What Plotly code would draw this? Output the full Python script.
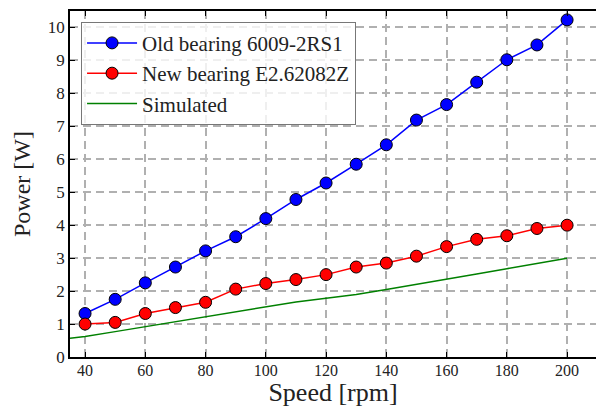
import plotly.graph_objects as go

speed = [40, 50, 60, 70, 80, 90, 100, 110, 120, 130, 140, 150, 160, 170, 180, 190, 200]
old_power = [1.32, 1.75, 2.25, 2.73, 3.22, 3.65, 4.20, 4.78, 5.28, 5.85, 6.44, 7.19, 7.66, 8.34, 9.02, 9.47, 10.23]
new_power = [1.00, 1.05, 1.32, 1.50, 1.66, 2.06, 2.23, 2.35, 2.50, 2.73, 2.85, 3.06, 3.35, 3.57, 3.68, 3.90, 4.00]
sim_speed = [35, 40, 50, 60, 70, 80, 90, 100, 110, 120, 130, 140, 150, 160, 170, 180, 190, 200]
sim_power = [0.57, 0.62, 0.77, 0.92, 1.07, 1.22, 1.38, 1.53, 1.67, 1.78, 1.90, 2.05, 2.20, 2.36, 2.52, 2.68, 2.84, 3.00]

x_ticks = [40, 60, 80, 100, 120, 140, 160, 180, 200]
y_ticks = list(range(0, 11))

FONT = "Liberation Serif"

fig = go.Figure()
fig.add_trace(go.Scatter(x=speed, y=old_power, mode="lines+markers", name="Old bearing 6009-2RS1",
                         line=dict(color="blue", width=1.5),
                         marker=dict(color="blue", size=12, line=dict(color="black", width=1))))
fig.add_trace(go.Scatter(x=speed, y=new_power, mode="lines+markers", name="New bearing E2.62082Z",
                         line=dict(color="red", width=1.5),
                         marker=dict(color="red", size=12, line=dict(color="black", width=1))))
fig.add_trace(go.Scatter(x=sim_speed, y=sim_power, mode="lines", name="Simulated",
                         line=dict(color="green", width=1.5)))

fig.update_layout(
    width=596, height=407,
    margin=dict(l=70, r=0, t=11, b=50),
    paper_bgcolor="white", plot_bgcolor="white",
    font=dict(family=FONT, color="#222", size=16),
    showlegend=True,
    legend=dict(x=0.021, y=0.969, xanchor="left", yanchor="top",
                bgcolor="rgba(255,255,255,0.8)", bordercolor="#777", borderwidth=1,
                font=dict(family=FONT, size=21, color="#222"), itemwidth=50,
                tracegroupgap=0),
    xaxis=dict(range=[35, 209.6], tickvals=x_ticks, showgrid=True,
               gridcolor="#b0b0b0", griddash="8px,5px", gridwidth=1.5,
               showline=True, linecolor="black", linewidth=1.5, mirror="ticks",
               ticks="inside", ticklen=5, tickcolor="black", zeroline=False,
               tickfont=dict(size=16), ticklabelstandoff=-2,
               title=dict(text="Speed [rpm]", font=dict(family=FONT, size=26), standoff=5)),
    yaxis=dict(range=[0, 10.5], tickvals=y_ticks, showgrid=True,
               gridcolor="#b0b0b0", griddash="8px,5px", gridwidth=1.5,
               showline=True, linecolor="black", linewidth=1.5,
               ticks="inside", ticklen=5, tickcolor="black", zeroline=False,
               tickfont=dict(size=17),
               title=dict(text="Power [W]", font=dict(family=FONT, size=24), standoff=10)),
)

fig.write_html("out.html", config={"displayModeBar": False},
               post_script="document.body.style.margin='0';")
